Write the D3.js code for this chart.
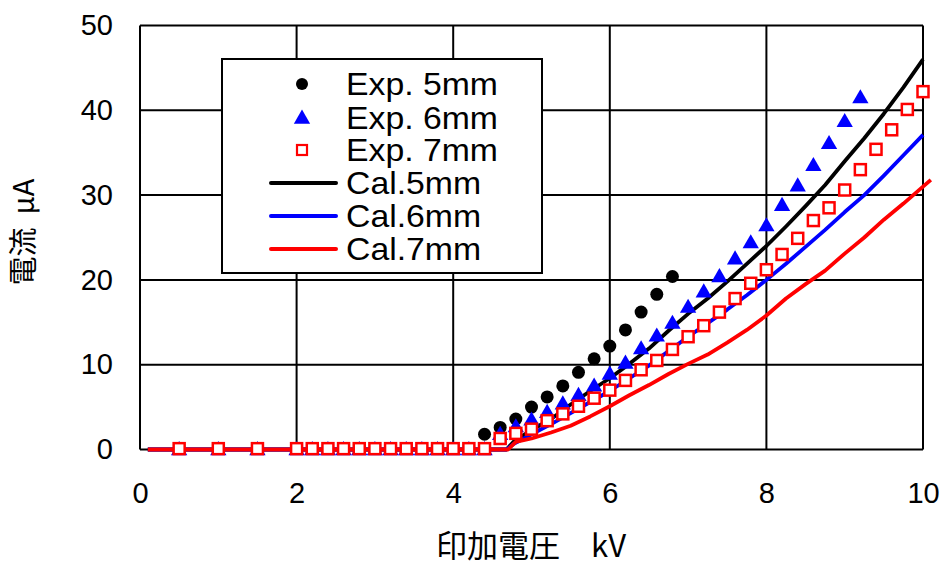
<!DOCTYPE html>
<html lang="ja">
<head>
<meta charset="utf-8">
<title>印加電圧と電流</title>
<script src="https://d3js.org/d3.v7.min.js"></script>
<style>
body { margin: 0; background: #fff; }
text { font-family: "Liberation Sans", Arial, sans-serif; fill: #000; }
.jp { font-family: "Noto Sans CJK JP", "Liberation Sans", sans-serif; white-space: pre; }
</style>
</head>
<body>
<div id="chart"></div>
<script>
// experiment data (kV, uA)
var lowX = [0.5, 1.0, 1.5, 2.0, 2.2, 2.4, 2.6, 2.8, 3.0, 3.2, 3.4, 3.6, 3.8, 4.0, 4.2, 4.4];

var exp5X = [4.4, 4.6, 4.8, 5.0, 5.2, 5.4, 5.6, 5.8, 6.0, 6.2, 6.4, 6.6, 6.8];
var exp5Y = [1.8, 2.6, 3.6, 5.0, 6.2, 7.5, 9.1, 10.7, 12.2, 14.1, 16.2, 18.3, 20.4];

var exp6X = lowX.concat([4.6, 4.8, 5.0, 5.2, 5.4, 5.6, 5.8, 6.0, 6.2, 6.4, 6.6, 6.8, 7.0,
  7.2, 7.4, 7.6, 7.8, 8.0, 8.2, 8.4, 8.6, 8.8, 9.0, 9.2]);
var exp6Y = [0, 0, 0, 0, 0, 0, 0, 0, 0, 0, 0, 0, 0, 0, 0, 0,
  1.8, 2.7, 3.5, 4.4, 5.4, 6.4, 7.5, 8.9, 10.2, 11.9, 13.4, 14.9, 16.8,
  18.6, 20.4, 22.5, 24.4, 26.4, 28.8, 31.1, 33.5, 36.1, 38.7, 41.5];

var exp7X = lowX.concat([4.6, 4.8, 5.0, 5.2, 5.4, 5.6, 5.8, 6.0, 6.2, 6.4, 6.6, 6.8, 7.0,
  7.2, 7.4, 7.6, 7.8, 8.0, 8.2, 8.4, 8.6, 8.8, 9.0, 9.2, 9.4, 9.6, 9.8, 10.0]);
var exp7Y = [0.1, 0.1, 0.1, 0.1, 0.1, 0.1, 0.1, 0.1, 0.1, 0.1, 0.1, 0.1, 0.1, 0.1, 0.1, 0.1,
  1.3, 1.9, 2.4, 3.4, 4.2, 5.1, 6.05, 7.0, 8.15, 9.4, 10.5, 11.8, 13.3,
  14.6, 16.2, 17.8, 19.6, 21.2, 23.0, 24.9, 27.0, 28.5, 30.6, 33.0, 35.4, 37.7, 40.1, 42.2];

// calculated curves
var cal5X = [0.1, 4.68, 4.78, 5.0, 5.25, 5.5, 5.75, 6.0, 6.25, 6.5, 6.75, 7.0, 7.25, 7.5,
  7.75, 8.0, 8.25, 8.5, 8.75, 9.0, 9.25, 9.5, 9.75, 10.0];
var cal5Y = [0, 0, 1.0, 2.3, 3.6, 5.3, 6.9, 8.4, 10.1, 11.9, 14.0, 16.0, 17.8, 19.8,
  21.9, 24.0, 26.3, 28.7, 31.2, 34.0, 36.7, 39.6, 42.7, 46.0];

var cal6X = [0.1, 4.68, 4.78, 5.0, 5.25, 5.5, 5.75, 6.0, 6.25, 6.5, 6.75, 7.0, 7.25, 7.5,
  7.75, 8.0, 8.25, 8.5, 8.75, 9.0, 9.25, 9.5, 9.75, 10.0];
var cal6Y = [0, 0, 0.7, 1.8, 3.0, 4.3, 5.6, 6.9, 8.4, 9.9, 11.6, 13.3, 14.9, 16.5,
  18.2, 20.0, 21.9, 23.9, 25.9, 28.0, 30.0, 32.3, 34.7, 37.1];

var cal7X = [0.1, 4.7, 4.8, 5.0, 5.25, 5.5, 5.75, 6.0, 6.25, 6.5, 6.75, 7.0, 7.25, 7.5,
  7.75, 8.0, 8.25, 8.5, 8.75, 9.0, 9.25, 9.5, 9.75, 10.0, 10.1];
var cal7Y = [0, 0, 0.9, 1.3, 2.0, 2.8, 3.9, 5.1, 6.4, 7.6, 8.9, 10.1, 11.2, 12.6,
  14.1, 15.8, 17.8, 19.5, 21.1, 23.1, 25.0, 27.1, 29.0, 31.0, 31.8];

var xTicks = [0, 2, 4, 6, 8, 10];
var yTicks = [0, 10, 20, 30, 40, 50];
var legendNames = ["Exp. 5mm", "Exp. 6mm", "Exp. 7mm", "Cal.5mm", "Cal.6mm", "Cal.7mm"];

var width = 945, height = 567;

var svg = d3.select("#chart")
  .append("svg")
  .attr("width", width)
  .attr("height", height);

var x = d3.scaleLinear().domain([0, 10]).range([140, 923]);
var y = d3.scaleLinear().domain([0, 50]).range([449.5, 25.5]);

// grid
svg.append("g")
  .selectAll("line.v")
  .data(xTicks)
  .enter()
  .append("line")
    .attr("x1", function(d) { return x(d); })
    .attr("x2", function(d) { return x(d); })
    .attr("y1", y(0))
    .attr("y2", y(50))
    .attr("stroke", "#000")
    .attr("stroke-width", 2);

svg.append("g")
  .selectAll("line.h")
  .data(yTicks)
  .enter()
  .append("line")
    .attr("x1", x(0))
    .attr("x2", x(10))
    .attr("y1", function(d) { return y(d); })
    .attr("y2", function(d) { return y(d); })
    .attr("stroke", "#000")
    .attr("stroke-width", 2);

// axes (labels only)
var xAxis = svg.append("g")
  .attr("transform", "translate(0," + y(0) + ")")
  .call(d3.axisBottom(x).tickValues(xTicks).tickSize(0).tickPadding(33));
var yAxis = svg.append("g")
  .attr("transform", "translate(" + x(0) + ",0)")
  .call(d3.axisLeft(y).tickValues(yTicks).tickSize(0).tickPadding(27));
[xAxis, yAxis].forEach(function(a) {
  a.select(".domain").remove();
  a.selectAll("text")
    .style("font-family", "'Liberation Sans', Arial, sans-serif")
    .style("font-size", "29px")
    .attr("fill", "#000");
});

// calculated lines
var line = d3.line()
  .x(function(d) { return x(d[0]); })
  .y(function(d) { return y(d[1]); });

var curves = [
  {xs: cal5X, ys: cal5Y, color: "#000000"},
  {xs: cal6X, ys: cal6Y, color: "#0000ff"},
  {xs: cal7X, ys: cal7Y, color: "#ff0000"}
];
svg.append("g")
  .selectAll("path")
  .data(curves)
  .enter()
  .append("path")
    .attr("d", function(c) { return line(d3.zip(c.xs, c.ys)); })
    .attr("fill", "none")
    .attr("stroke", function(c) { return c.color; })
    .attr("stroke-width", 3.8)
    .attr("stroke-linejoin", "round");

// markers
svg.append("g")
  .selectAll("circle")
  .data(d3.zip(exp5X, exp5Y))
  .enter()
  .append("circle")
    .attr("cx", function(d) { return x(d[0]); })
    .attr("cy", function(d) { return y(d[1]); })
    .attr("r", 6.5)
    .attr("fill", "#000");

var tri = d3.symbol().type(d3.symbolTriangle).size(115);
svg.append("g")
  .selectAll("path")
  .data(d3.zip(exp6X, exp6Y))
  .enter()
  .append("path")
    .attr("d", tri)
    .attr("transform", function(d) { return "translate(" + x(d[0]) + "," + (y(d[1]) + 1) + ")"; })
    .attr("fill", "#0000ff");

svg.append("g")
  .selectAll("rect")
  .data(d3.zip(exp7X, exp7Y))
  .enter()
  .append("rect")
    .attr("x", function(d) { return x(d[0]) - 5.5; })
    .attr("y", function(d) { return y(d[1]) - 5.5; })
    .attr("width", 11)
    .attr("height", 11)
    .attr("fill", "#fff")
    .attr("stroke", "#ff0000")
    .attr("stroke-width", 2.5);

// legend
var lg = svg.append("g");
lg.append("rect")
  .attr("x", 222).attr("y", 59)
  .attr("width", 320).attr("height", 214)
  .attr("fill", "#fff")
  .attr("stroke", "#000")
  .attr("stroke-width", 2);

var rowY = [84, 118, 150, 183, 216, 249];
lg.append("circle").attr("cx", 302).attr("cy", rowY[0]).attr("r", 6).attr("fill", "#000");
lg.append("path").attr("d", tri).attr("transform", "translate(302," + (rowY[1] + 1) + ")").attr("fill", "#0000ff");
lg.append("rect").attr("x", 297).attr("y", rowY[2] - 5).attr("width", 10).attr("height", 10)
  .attr("fill", "#fff").attr("stroke", "#ff0000").attr("stroke-width", 2.2);
["#000000", "#0000ff", "#ff0000"].forEach(function(c, i) {
  lg.append("line")
    .attr("x1", 271).attr("x2", 336)
    .attr("y1", rowY[i + 3]).attr("y2", rowY[i + 3])
    .attr("stroke", c).attr("stroke-width", 4).attr("stroke-linecap", "round");
});
// text in the original is a bit wider than tall, so stretch it horizontally
lg.selectAll("text.lab")
  .data(legendNames)
  .enter()
  .append("text")
    .attr("transform", function(d, i) { return "translate(346," + (rowY[i] + 11) + ") scale(1.09,1)"; })
    .style("font-size", "31px")
    .text(function(d) { return d; });

// axis titles
svg.append("text")
  .attr("class", "jp")
  .attr("x", 531)
  .attr("y", 557)
  .attr("text-anchor", "middle")
  .style("font-size", "31px")
  .text("印加電圧　kV");

svg.append("text")
  .attr("class", "jp")
  .attr("transform", "translate(34,232) rotate(-90)")
  .attr("text-anchor", "middle")
  .style("font-size", "29px")
  .text("電流  μA");
</script>
</body>
</html>
